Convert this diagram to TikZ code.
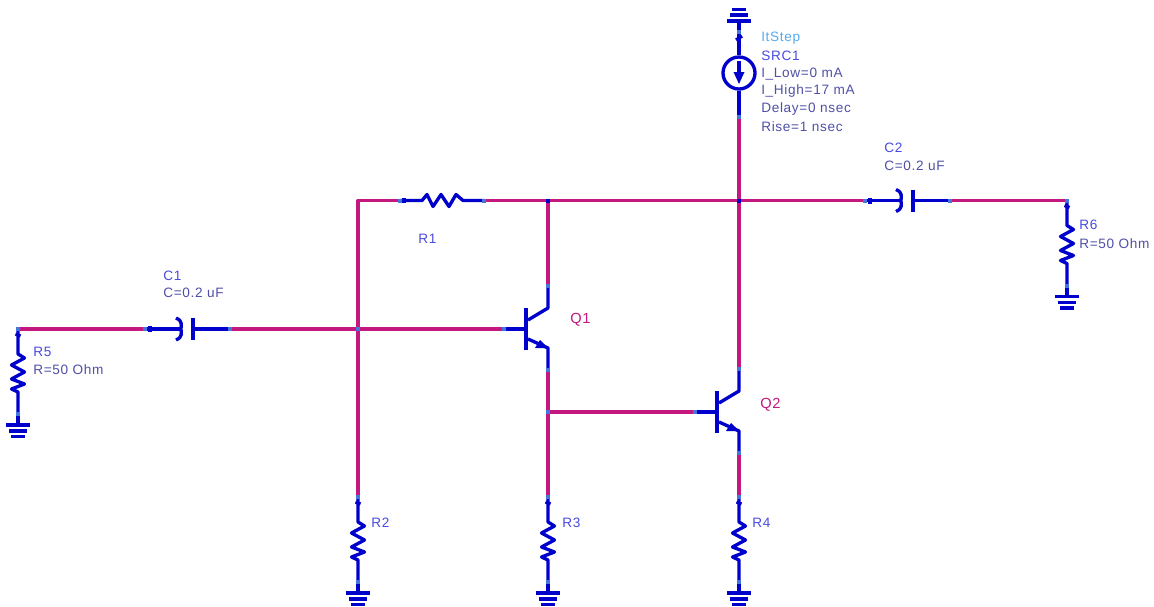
\documentclass[tikz,border=0pt]{standalone}
\usepackage{fontspec}
\setmainfont[LetterSpace=5]{Liberation Sans}
\definecolor{cblue}{HTML}{0000CC}
\definecolor{cmag}{HTML}{C4187E}
\definecolor{cpin}{HTML}{4477DD}
\definecolor{cname}{HTML}{4A4AE0}
\definecolor{cparam}{HTML}{5050A8}
\definecolor{cstep}{HTML}{55AAEE}
\tikzset{
  wire/.style={cmag,line width=2.3pt,line join=round},
  part/.style={cblue,line width=2.5pt,line join=round},
  barline/.style={cblue,line width=2.6pt},
  txt/.style={anchor=west,inner sep=0pt,font=\fontsize{10.2pt}{12pt}\selectfont},
  namet/.style={txt,text=cname},
  paramt/.style={txt,text=cparam},
  qlabel/.style={txt,text=cmag,font=\fontsize{11pt}{13pt}\selectfont},
  gndp/.pic={
    \draw[part] (0,0) -- (0,11);
    \draw[barline] (-12,11) -- (12,11);
    \draw[barline] (-9,17) -- (9,17);
    \draw[barline] (-7,22.5) -- (7,22.5);
  },
  resv/.pic={
    \coordinate (-in) at (0,0);
    \coordinate (-out) at (0,85);
    \draw[part] (0,0) -- (0,25) -- (6.5,29) -- (-6.5,36) -- (6.5,43) -- (-6.5,50) -- (6.5,55) -- (-6.5,60) -- (0,63) -- (0,85);
    \draw[part] (-2.5,5) -- (2.5,7);
  },
  resh/.pic={
    \coordinate (-in) at (0,0);
    \coordinate (-out) at (84,0);
    \draw[part] (0,0) -- (22,0) -- (27,-6) -- (33,6) -- (41,-6) -- (49,6) -- (56,-6) -- (63,0) -- (84,0);
    \draw[part] (4,-2.5) -- (4,2.5);
  },
  caph/.pic={
    \coordinate (-in) at (0,0);
    \coordinate (-out) at (85,0);
    \draw[part] (0,0) -- (36,0);
    \draw[part] (5,-3) -- (5,3);
    \draw[part] (31,-11) .. controls (38,-8) and (36,-4) .. (36,0) .. controls (36,4) and (38,8) .. (31,11);
    \draw[part] (48,-11) -- (48,11);
    \draw[part] (48,0) -- (85,0);
  },
  bjt/.pic={
    \coordinate (-b) at (0,0);
    \coordinate (-c) at (44,-43);
    \coordinate (-e) at (44,41);
    \draw[part] (0,0) -- (22,0);
    \draw[part] (22,-21) -- (22,21);
    \draw[part] (44,-43) -- (44,-21) -- (24,-9);
    \draw[part] (44,41) -- (44,19) -- (24,10);
    \fill[cblue] (44,19) -- (31,19) -- (36,11) -- cycle;
  }
}
\begin{document}
\begin{tikzpicture}[x=0.75pt,y=-0.75pt]
\useasboundingbox (0,0) rectangle (1154,607);
\fill[white] (0,0) rectangle (1154,607);

% parts
\pic (R1) at (400,200.5) {resh};
\pic (R2) at (358,497) {resv};
\pic (R3) at (548,497) {resv};
\pic (R4) at (739,497) {resv};
\pic (R5) at (18,329) {resv};
\pic (R6) at (1067,200.5) {resv};
\pic (C1) at (145,329) {caph};
\pic (C2) at (865,200.5) {caph};
\pic (Q1) at (504,329) {bjt};
\pic (Q2) at (695,412) {bjt};
\pic at (R2-out) {gndp};
\pic at (R3-out) {gndp};
\pic at (R4-out) {gndp};
\pic at (R5-out) {gndp};
\pic at (R6-out) {gndp};

% current source
\coordinate (S-top) at (739,32);
\coordinate (S-out) at (739,117);
\pic[yscale=-1] at (S-top) {gndp};
\node[circle,draw=cblue,line width=2.5pt,minimum size=24pt,inner sep=0pt] (SRC) at (739,73) {};
\draw[part] (S-top) -- (SRC.north);
\draw[part] (736,40) -- (742,36);
\draw[part] (SRC.south) -- (S-out);
\draw[part] (739,61) -- (739,76);
\fill[cblue] (733.5,72) -- (744.5,72) -- (739,84) -- cycle;

% junctions
\coordinate (J1) at (548,200.5);
\coordinate (J2) at (739,200.5);
\coordinate (J3) at (548,412);
\coordinate (J4) at (358,329);

% wires
\draw[wire] (R2-in) |- (R1-in);
\draw[wire] (R1-out) -- (C2-in);
\draw[wire] (C2-out) -- (R6-in);
\draw[wire] (R5-in) -- (C1-in);
\draw[wire] (C1-out) -- (Q1-b);
\draw[wire] (J1) -- (Q1-c);
\draw[wire] (Q1-e) -- (R3-in);
\draw[wire] (J3) -- (Q2-b);
\draw[wire] (S-out) -- (J2);
\draw[wire] (J2) -- (Q2-c);
\draw[wire] (Q2-e) -- (R4-in);

% connection pins
\foreach \p in {R1-in,R1-out,R2-in,R2-out,R3-in,R3-out,R4-in,R4-out,R5-in,R5-out,R6-in,R6-out,C1-in,C1-out,C2-in,C2-out,Q1-b,Q1-c,Q1-e,Q2-b,Q2-c,Q2-e,S-top,S-out,J3,J4}{
  \fill[cpin] (\p) ++(-2,-2) rectangle ++(4,4);
}
\fill[cblue] (J1) ++(-2,-2) rectangle ++(4,4);
\fill[cblue] (J2) ++(-2,-2) rectangle ++(4,4);

% labels
\node[txt,text=cstep] (t1) at (761,38) {ItStep};
\node[namet] (t2) at (761,56) {SRC1};
\node[paramt] (t3) at (761,74) {I\_Low=0 mA};
\node[paramt] (t4) at (761,91) {I\_High=17 mA};
\node[paramt] (t5) at (761,109) {Delay=0 nsec};
\node[paramt] (t6) at (761,127) {Rise=1 nsec};
\node[namet] (t7) at (884,148) {C2};
\node[paramt] (t8) at (884,166) {C=0.2 uF};
\node[namet] (t9) at (1079,225) {R6};
\node[paramt] (t10) at (1079,244) {R=50 Ohm};
\node[namet] (t11) at (418,239) {R1};
\node[namet] (t12) at (163,276) {C1};
\node[paramt] (t13) at (163,293) {C=0.2 uF};
\node[namet] (t14) at (33,352) {R5};
\node[paramt] (t15) at (33,370) {R=50 Ohm};
\node[namet] (t16) at (371,523) {R2};
\node[namet] (t17) at (562,523) {R3};
\node[namet] (t18) at (752,523) {R4};
\node[qlabel] (t19) at (570,320) {Q1};
\node[qlabel] (t20) at (760,405) {Q2};
\end{tikzpicture}
\end{document}
